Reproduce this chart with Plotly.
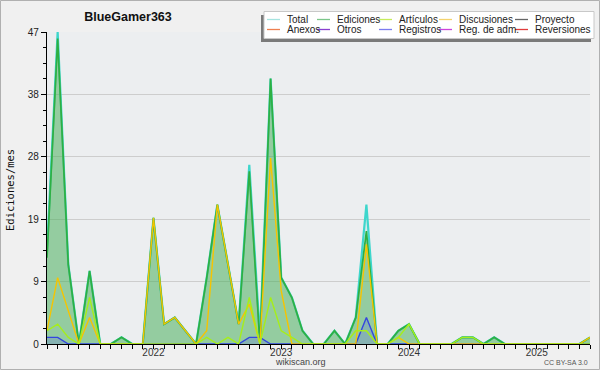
import plotly.graph_objects as go

# ---------------- data ----------------
months = [
    "2021-03", "2021-04", "2021-05", "2021-06", "2021-07", "2021-08", "2021-09", "2021-10", "2021-11", "2021-12",
    "2022-01", "2022-02", "2022-03", "2022-04", "2022-05", "2022-06", "2022-07", "2022-08", "2022-09", "2022-10",
    "2022-11", "2022-12", "2023-01", "2023-02", "2023-03", "2023-04", "2023-05", "2023-06", "2023-07", "2023-08",
    "2023-09", "2023-10", "2023-11", "2023-12", "2024-01", "2024-02", "2024-03", "2024-04", "2024-05", "2024-06",
    "2024-07", "2024-08", "2024-09", "2024-10", "2024-11", "2024-12", "2025-01", "2025-02", "2025-03", "2025-04",
    "2025-05", "2025-06",
]
total = [14, 47, 12, 0, 11, 0, 0, 1, 0, 0,
         19, 3, 4, 2, 0, 10, 21, 12, 3, 27,
         1, 40, 10, 7, 2, 0, 0, 2, 0, 4,
         21, 0, 0, 2, 3, 0, 0, 0, 0, 1,
         1, 0, 1, 0, 0, 0, 0, 0, 0, 0,
         0, 1]
ediciones = [13, 46, 12, 0, 11, 0, 0, 1, 0, 0,
             19, 3, 4, 2, 0, 10, 21, 12, 3, 26,
             0, 40, 10, 7, 2, 0, 0, 2, 0, 4,
             17, 0, 0, 2, 3, 0, 0, 0, 0, 1,
             1, 0, 1, 0, 0, 0, 0, 0, 0, 0,
             0, 1]
articulos = [2, 3, 1, 0, 7, 0, 0, 0, 0, 0,
             0, 0, 0, 0, 0, 1, 0, 1, 0, 7,
             0, 7, 2, 1, 0, 0, 0, 0, 0, 2,
             2, 0, 0, 1, 3, 0, 0, 0, 0, 1,
             1, 0, 0, 0, 0, 0, 0, 0, 0, 0,
             0, 0]
discusiones = [2, 10, 5, 0, 4, 0, 0, 0, 0, 0,
               19, 3, 4, 2, 0, 2, 21, 12, 3, 6,
               0, 28, 8, 0, 0, 0, 0, 0, 0, 0,
               15, 0, 0, 1, 0, 0, 0, 0, 0, 0,
               0, 0, 0, 0, 0, 0, 0, 0, 0, 0,
               0, 1]
registros = [1, 1, 0, 0, 0, 0, 0, 0, 0, 0,
             0, 0, 0, 0, 0, 0, 0, 0, 0, 1,
             1, 0, 0, 0, 0, 0, 0, 0, 0, 0,
             4, 0, 0, 0, 0, 0, 0, 0, 0, 0,
             0, 0, 0, 0, 0, 0, 0, 0, 0, 0,
             0, 0]

y_max = 47
y_tick_labels = ["0", "9", "19", "28", "38", "47"]

legend_row1 = ["Total", "Ediciones", "Artículos", "Discusiones", "Proyecto"]
legend_row2 = ["Anexos", "Otros", "Registros", "Reg. de adm.", "Reversiones"]
legend_colors_row1 = ["#a6e4e0", "#7cc68a", "#c6ec5c", "#f4d36e", "#666666"]
legend_colors_row2 = ["#ee8050", "#8a40d0", "#7c7cf0", "#cc44dd", "#e03c3c"]

# ---------------- layout geometry ----------------
W, H = 600, 370
ML, MR, MT, MB = 47, 10, 32, 26
PW, PH = W - ML - MR, H - MT - MB


def px(x):
    return (x - ML) / PW


def py(y):
    return (H - MB - y) / PH


FONT = "Liberation Sans"

fig = go.Figure()

fig.add_trace(go.Scatter(
    x=months, y=total, mode="lines", name="Total",
    line=dict(color="#3ed6cc", width=2.2),
    fill="tozeroy", fillcolor="rgba(90,215,205,0.14)",
))
fig.add_trace(go.Scatter(
    x=months, y=ediciones, mode="lines", name="Ediciones",
    line=dict(color="#2eb043", width=1.7),
    fill="tozeroy", fillcolor="rgba(66,168,68,0.45)",
))
fig.add_trace(go.Scatter(
    x=months, y=registros, mode="lines", name="Registros",
    line=dict(color="#3345e0", width=1.4),
    fill="tozeroy", fillcolor="rgba(90,100,230,0.25)",
))
fig.add_trace(go.Scatter(
    x=months, y=discusiones, mode="lines", name="Discusiones",
    line=dict(color="#f6c400", width=1.4),
))
fig.add_trace(go.Scatter(
    x=months, y=articulos, mode="lines", name="Artículos",
    line=dict(color="#a6ee1a", width=1.4),
))

# y ticks: 5 equal intervals, minor ticks at quarter intervals
major_step = y_max / 5
y_tickvals = [round(i * major_step, 4) for i in range(6)]
y_minor = [round(i * major_step / 4, 4) for i in range(21)]

x_ticktext = [m[:4] if m.endswith("-01") else "" for m in months]

fig.update_xaxes(
    type="category", range=[0, len(months) - 1],
    tickmode="array", tickvals=months, ticktext=x_ticktext,
    ticks="outside", ticklen=4, tickwidth=1, tickcolor="#000",
    showline=True, linecolor="#000", linewidth=1.2,
    showgrid=False, zeroline=False,
    tickfont=dict(family=FONT, size=10, color="#333"),
    ticklabelstandoff=-5,
)
fig.update_yaxes(
    range=[0, y_max],
    tickmode="array", tickvals=y_tickvals, ticktext=y_tick_labels,
    ticks="outside", ticklen=5, tickwidth=1, tickcolor="#000",
    minor=dict(tickmode="array", tickvals=y_minor, ticks="outside", ticklen=3,
               tickcolor="#000", tickwidth=1, showgrid=False),
    showline=True, linecolor="#000", linewidth=1.2,
    showgrid=True, gridcolor="#cdcdcd", gridwidth=1, zeroline=False,
    tickfont=dict(family=FONT, size=10, color="#222"),
)

shapes = []
annotations = []

# outer frame
shapes.append(dict(type="rect", xref="paper", yref="paper",
                   x0=px(0.5), x1=px(W - 0.5), y0=py(H - 0.5), y1=py(0.5),
                   line=dict(color="#b0b0b0", width=1), fillcolor="rgba(0,0,0,0)", layer="above"))

# legend box with shadow
shapes.append(dict(type="rect", xref="paper", yref="paper",
                   x0=px(261), x1=px(591), y0=py(42), y1=py(15),
                   line=dict(width=0), fillcolor="#7a7a7a", layer="above"))
shapes.append(dict(type="rect", xref="paper", yref="paper",
                   x0=px(264), x1=px(594), y0=py(38.5), y1=py(11.5),
                   line=dict(color="#c8c8c8", width=1), fillcolor="#ffffff", layer="above"))

col_text_x = [285, 335, 397, 457, 533]
row_y = [19.5, 29.5]
for r, (names, colors) in enumerate([(legend_row1, legend_colors_row1), (legend_row2, legend_colors_row2)]):
    for c, (name, col) in enumerate(zip(names, colors)):
        tx = col_text_x[c]
        yy = row_y[r]
        shapes.append(dict(type="line", xref="paper", yref="paper",
                           x0=px(tx - 18), x1=px(tx - 5), y0=py(yy), y1=py(yy),
                           line=dict(color=col, width=1.3), layer="above"))
        annotations.append(dict(text=name, xref="paper", yref="paper",
                                x=px(tx), y=py(yy), xanchor="left", yanchor="middle",
                                showarrow=False,
                                font=dict(family=FONT, size=10, color="#222")))

# y axis title
annotations.append(dict(text="Ediciones/mes", xref="paper", yref="paper",
                        x=px(10), y=py(190), xanchor="center", yanchor="middle",
                        textangle=-90, showarrow=False,
                        font=dict(family="DejaVu Sans Mono", size=10.5, color="#111")))
# footer texts
annotations.append(dict(text="wikiscan.org", xref="paper", yref="paper",
                        x=px(300), y=py(362), xanchor="center", yanchor="middle",
                        showarrow=False, font=dict(family=FONT, size=9, color="#444")))
annotations.append(dict(text="CC BY-SA 3.0", xref="paper", yref="paper",
                        x=px(590), y=py(362.5), xanchor="right", yanchor="middle",
                        showarrow=False, font=dict(family=FONT, size=7, color="#555")))

fig.update_layout(
    width=W, height=H,
    margin=dict(l=ML, r=MR, t=MT, b=MB, pad=0),
    paper_bgcolor="#f0f0f0", plot_bgcolor="#eceef0",
    showlegend=False,
    title=dict(text="<b>BlueGamer363</b>", x=128 / W, y=1 - 17 / H,
               xref="container", yref="container", xanchor="center", yanchor="middle",
               font=dict(family=FONT, size=12.5, color="#111")),
    shapes=shapes, annotations=annotations,
)

fig.write_html("out.html", config={"displayModeBar": False},
               post_script="document.body.style.margin='0px';")
